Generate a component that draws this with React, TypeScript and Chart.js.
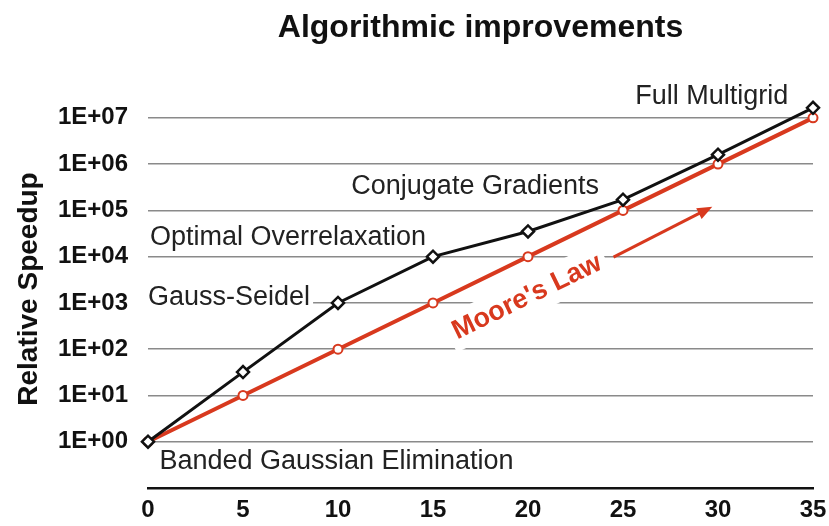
import { useEffect, useRef } from 'react';
import { Chart, registerables } from 'chart.js';

Chart.register(...registerables);

// ---- data ----
const years = [0, 5, 10, 15, 20, 25, 30, 35];
const algorithmSpeedup = [1, 32, 1000, 10000, 35000, 170000, 1600000, 16500000];
const mooresLawSpeedup = [1, 10, 100, 1000, 10000, 100000, 1000000, 10000000];
const yTickValues = [0.1, 1, 10, 100, 1000, 10000, 100000, 1000000, 10000000];
const xTickStep = 5;

const titleText = 'Algorithmic improvements';
const yAxisTitle = 'Relative Speedup';

// annotation labels (data coordinates)
const labelTexts = [
  'Banded Gaussian Elimination',
  'Gauss-Seidel',
  'Optimal Overrelaxation',
  'Conjugate Gradients',
  'Full Multigrid',
];
const labelX = [0.6, 0, 0.1, 10.7, 33.7];
const labelY = [0.38, 1320, 25700, 323000, 29500000];
const labelAlign = ['left', 'left', 'left', 'left', 'right'];

const mooreText = "Moore's Law";
const mooreX = 19.95;
const mooreY = 1330;
const arrowFrom = [24.5, 9800];
const arrowTo = [29.7, 120000];

const RED = '#d8391e';
const FONT = '"Liberation Sans", Arial, Helvetica, sans-serif';

const overlayPlugin = {
  id: 'overlay',
  beforeDatasetsDraw(chart: any) {
    const { ctx, scales, chartArea } = chart;
    const x = scales.x;
    const y = scales.y;
    ctx.save();

    // title
    ctx.font = `bold 32px ${FONT}`;
    ctx.fillStyle = '#111';
    ctx.textAlign = 'center';
    ctx.textBaseline = 'middle';
    ctx.fillText(titleText, (chartArea.left + chartArea.right) / 2, 28);

    // text labels
    ctx.font = `27px ${FONT}`;
    labelTexts.forEach((t, i) => {
      const px = x.getPixelForValue(labelX[i]);
      const py = y.getPixelForValue(labelY[i]);
      const w = ctx.measureText(t).width;
      const left = labelAlign[i] === 'right' ? px - w : px;
      ctx.fillStyle = '#fff';
      ctx.fillRect(left - 3, py - 13, w + 6, 26);
      ctx.fillStyle = '#222';
      ctx.textAlign = labelAlign[i];
      ctx.fillText(t, px, py);
    });

    // Moore's law label, parallel to the red line
    const x0 = x.getPixelForValue(years[0]);
    const y0 = y.getPixelForValue(mooresLawSpeedup[0]);
    const x1 = x.getPixelForValue(years[years.length - 1]);
    const y1 = y.getPixelForValue(mooresLawSpeedup[mooresLawSpeedup.length - 1]);
    const ang = Math.atan2(y1 - y0, x1 - x0);
    const mx = x.getPixelForValue(mooreX);
    const my = y.getPixelForValue(mooreY);
    ctx.save();
    ctx.translate(mx, my);
    ctx.rotate(ang);
    ctx.font = `bold 27px ${FONT}`;
    const mw = ctx.measureText(mooreText).width;
    ctx.fillStyle = '#fff';
    ctx.fillRect(-mw / 2 - 6, -19, mw + 12, 38);
    ctx.fillStyle = RED;
    ctx.textAlign = 'center';
    ctx.textBaseline = 'middle';
    ctx.fillText(mooreText, 0, 0);
    ctx.restore();

    // arrow
    const ax0 = x.getPixelForValue(arrowFrom[0]);
    const ay0 = y.getPixelForValue(arrowFrom[1]);
    const ax1 = x.getPixelForValue(arrowTo[0]);
    const ay1 = y.getPixelForValue(arrowTo[1]);
    const a = Math.atan2(ay1 - ay0, ax1 - ax0);
    const head = 15;
    ctx.strokeStyle = RED;
    ctx.lineWidth = 3;
    ctx.beginPath();
    ctx.moveTo(ax0, ay0);
    ctx.lineTo(ax1 - head * 0.8 * Math.cos(a), ay1 - head * 0.8 * Math.sin(a));
    ctx.stroke();
    ctx.fillStyle = RED;
    ctx.beginPath();
    ctx.moveTo(ax1, ay1);
    ctx.lineTo(ax1 - head * Math.cos(a) + 6 * Math.sin(a), ay1 - head * Math.sin(a) - 6 * Math.cos(a));
    ctx.lineTo(ax1 - head * Math.cos(a) - 6 * Math.sin(a), ay1 - head * Math.sin(a) + 6 * Math.cos(a));
    ctx.closePath();
    ctx.fill();

    ctx.restore();
  },
};

function formatPow(v: number) {
  if (v < 1) return '';
  const e = Math.round(Math.log10(v));
  return '1E+' + String(e).padStart(2, '0');
}

export default function App() {
  const ref = useRef<HTMLCanvasElement | null>(null);

  useEffect(() => {
    if (!ref.current) return;
    const chart = new Chart(ref.current, {
      type: 'line',
      data: {
        datasets: [
          {
            label: 'Algorithms',
            data: years.map((yr, i) => ({ x: yr, y: algorithmSpeedup[i] })),
            borderColor: '#111',
            borderWidth: 3,
            pointStyle: 'rectRot',
            pointRadius: 6,
            pointBorderWidth: 2.5,
            pointBackgroundColor: '#fff',
            pointBorderColor: '#111',
            tension: 0,
            clip: false,
            order: 0,
          },
          {
            label: "Moore's Law",
            data: years.map((yr, i) => ({ x: yr, y: mooresLawSpeedup[i] })),
            borderColor: RED,
            borderWidth: 4,
            pointStyle: 'circle',
            pointRadius: 4.5,
            pointBorderWidth: 2,
            pointBackgroundColor: '#fff',
            pointBorderColor: RED,
            tension: 0,
            clip: false,
            order: 1,
          },
        ],
      },
      options: {
        responsive: false,
        animation: false,
        layout: { padding: { top: 90, right: 16, left: 0, bottom: 0 } },
        plugins: {
          legend: { display: false },
          tooltip: { enabled: false },
          title: { display: false },
        },
        scales: {
          x: {
            type: 'linear',
            min: 0,
            max: 35,
            afterFit: (s: any) => {
              s.height = 38;
              s.paddingLeft = 0;
              s.paddingRight = 0;
            },
            ticks: {
              stepSize: xTickStep,
              padding: 8,
              color: '#111',
              font: { family: FONT, size: 24, weight: 'bold' },
            },
            grid: { display: true, color: 'rgba(0,0,0,0)', drawTicks: false },
            border: { display: true, color: '#111', width: 2.5 },
          },
          y: {
            type: 'logarithmic',
            min: 0.1,
            max: 40000000,
            bounds: 'data',
            afterFit: (s: any) => {
              s.width = 148;
              s.paddingTop = 0;
              s.paddingBottom = 0;
            },
            afterBuildTicks: (s: any) => {
              s.ticks = yTickValues.map((v) => ({ value: v }));
            },
            ticks: {
              padding: 20,
              color: '#111',
              font: { family: FONT, size: 24, weight: 'bold' },
              callback: (v: any) => formatPow(Number(v)),
              autoSkip: false,
            },
            grid: {
              drawTicks: false,
              color: (c: any) => (c.tick && c.tick.value < 1 ? 'rgba(0,0,0,0)' : '#8a8a8a'),
              lineWidth: 1.5,
            },
            border: { display: false },
            title: {
              display: true,
              text: yAxisTitle,
              color: '#111',
              font: { family: FONT, size: 28, weight: 'bold' },
              padding: { top: 12, bottom: 0 },
            },
          },
        },
      },
      plugins: [overlayPlugin],
    } as any);
    return () => chart.destroy();
  }, []);

  return (
    <canvas
      ref={ref}
      width={829}
      height={526}
      style={{ position: 'fixed', left: 0, top: 0, width: 829, height: 526, display: 'block' }}
    />
  );
}
